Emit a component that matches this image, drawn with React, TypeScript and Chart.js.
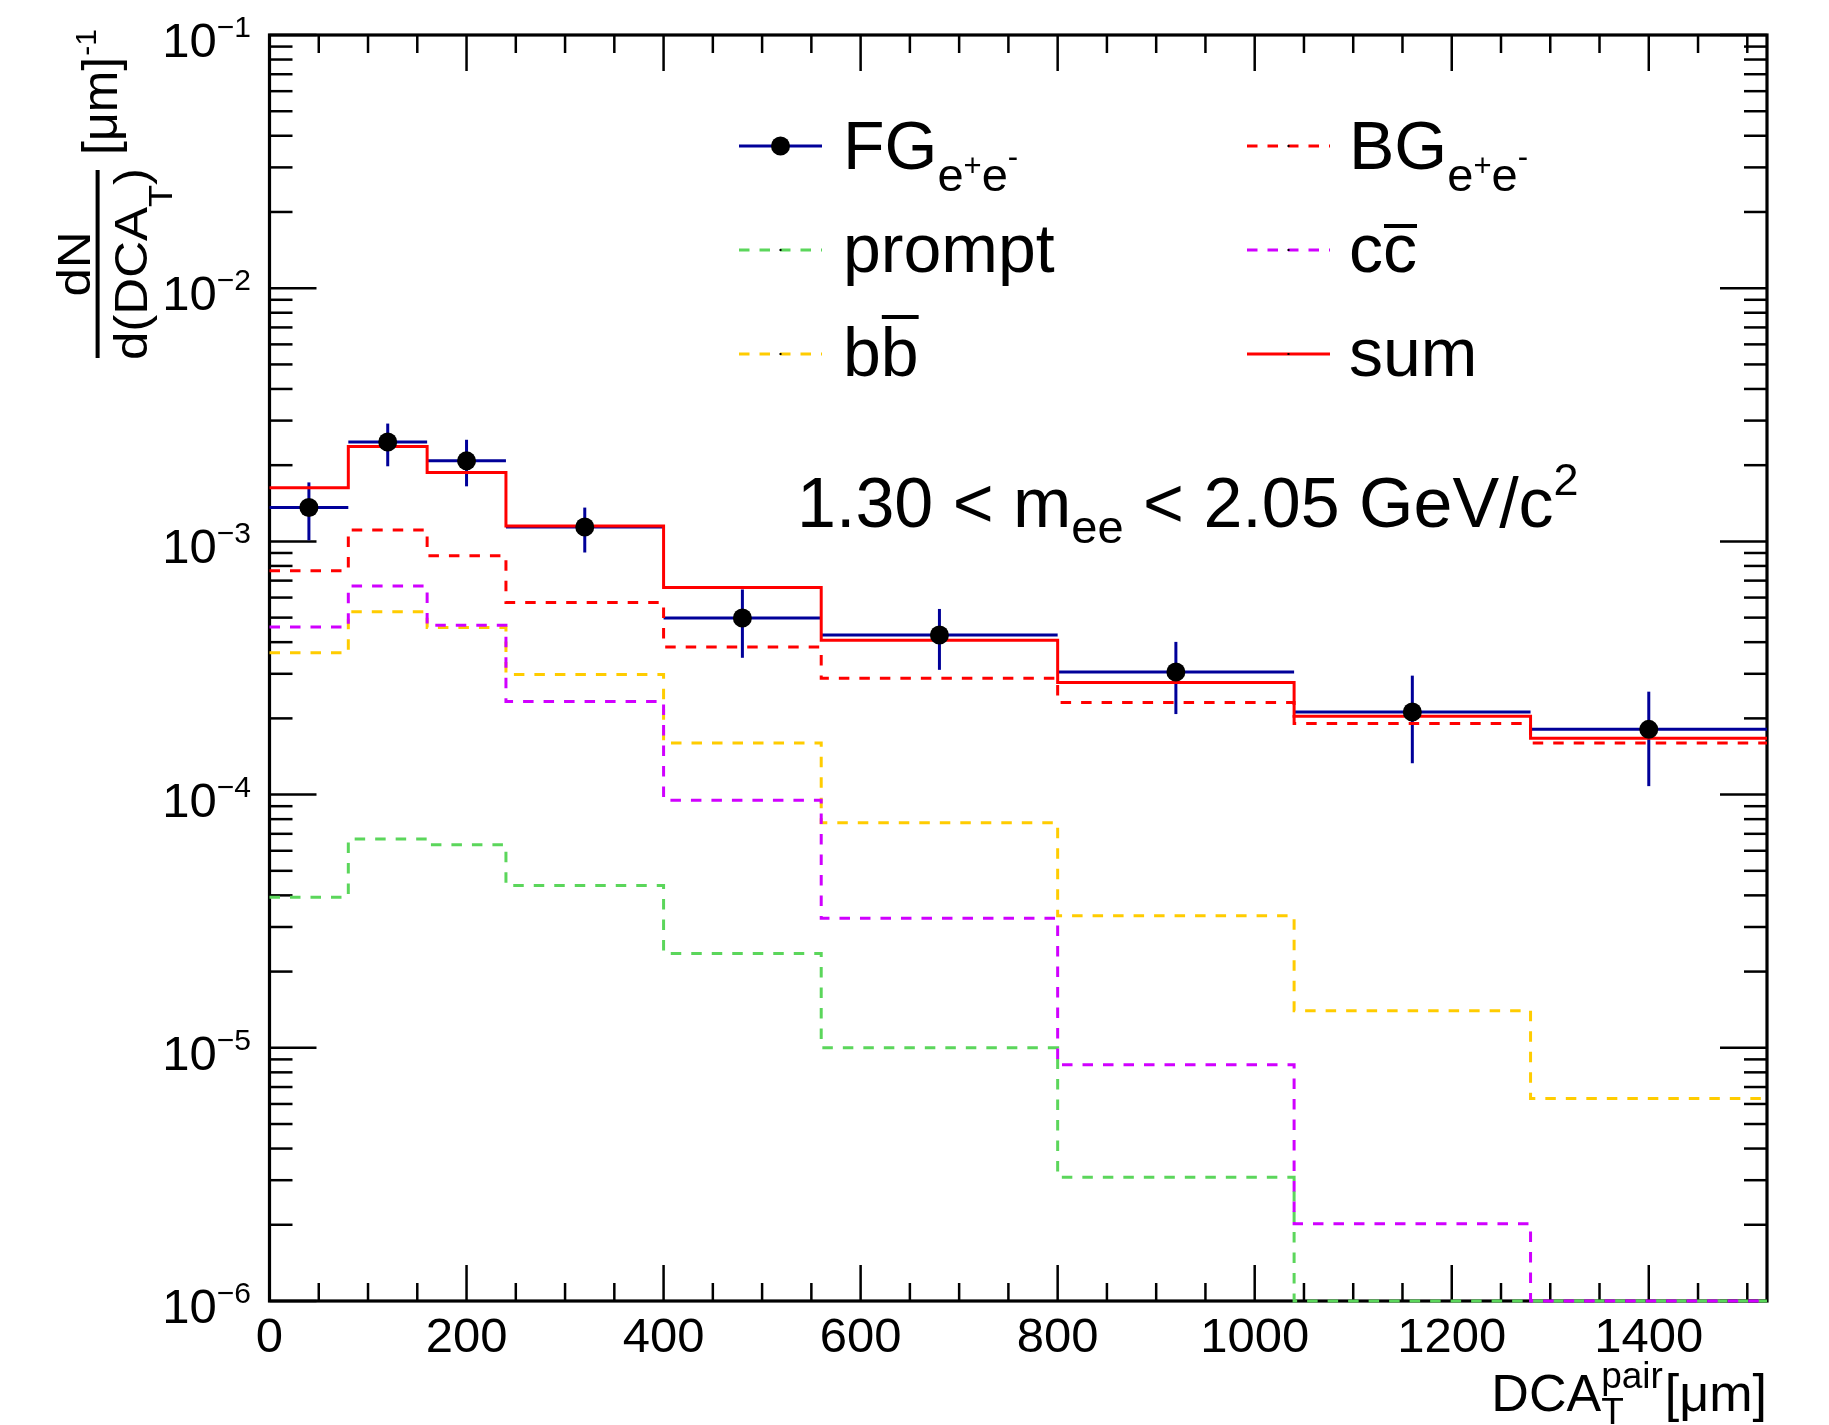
import React, { useEffect, useRef } from 'react';
import { Chart, registerables } from 'chart.js';

Chart.register(...registerables);

// ---------------- data ----------------
const binEdges = [0, 80, 160, 240, 400, 560, 800, 1040, 1280, 1520];
const binCenters = [40, 120, 200, 320, 480, 680, 920, 1160, 1400];

const fgValues = [1.36e-3, 2.47e-3, 2.08e-3, 1.14e-3, 4.98e-4, 4.27e-4, 3.05e-4, 2.12e-4, 1.81e-4];
const fgErrHigh = [1.71e-3, 2.92e-3, 2.52e-3, 1.36e-3, 6.46e-4, 5.41e-4, 4.01e-4, 2.95e-4, 2.55e-4];
const fgErrLow = [1.01e-3, 1.98e-3, 1.65e-3, 9.04e-4, 3.47e-4, 3.11e-4, 2.08e-4, 1.33e-4, 1.08e-4];

const sumValues = [1.63e-3, 2.37e-3, 1.87e-3, 1.15e-3, 6.58e-4, 4.07e-4, 2.77e-4, 2.04e-4, 1.67e-4];
const bgValues = [7.66e-4, 1.11e-3, 8.78e-4, 5.74e-4, 3.83e-4, 2.88e-4, 2.31e-4, 1.91e-4, 1.6e-4];
const ccValues = [4.59e-4, 6.66e-4, 4.66e-4, 2.33e-4, 9.5e-5, 3.25e-5, 8.58e-6, 2.02e-6, 1e-6];
const bbValues = [3.63e-4, 5.28e-4, 4.57e-4, 2.98e-4, 1.6e-4, 7.75e-5, 3.32e-5, 1.4e-5, 6.3e-6];
const promptValues = [3.93e-5, 6.68e-5, 6.34e-5, 4.38e-5, 2.36e-5, 1.0e-5, 3.08e-6, 1e-6, 1e-6];

const xTickLabels = [0, 200, 400, 600, 800, 1000, 1200, 1400];
const yTickExponents = [-1, -2, -3, -4, -5, -6];

// ---------------- style ----------------
const W = 1829;
const H = 1425;
const FONT = '"Liberation Sans", Arial, Helvetica, sans-serif';
const C_FG = '#000099';
const C_RED = '#ff0000';
const C_GREEN = '#5bd65b';
const C_MAG = '#d000ff';
const C_YEL = '#ffcc00';
const DASH = [10.5, 10];
const LW = 3;

function stepData(values: number[]) {
  const pts = values.map((v, i) => ({ x: binEdges[i], y: v }));
  pts.push({ x: binEdges[binEdges.length - 1], y: values[values.length - 1] });
  return pts;
}

function setFont(ctx: CanvasRenderingContext2D, size: number) {
  ctx.font = `${size}px ${FONT}`;
}

type Run = { t: string; size: number; dy: number };

function runsWidth(ctx: CanvasRenderingContext2D, runs: Run[]) {
  let w = 0;
  for (const r of runs) {
    setFont(ctx, r.size);
    w += ctx.measureText(r.t).width;
  }
  return w;
}

function drawRuns(ctx: CanvasRenderingContext2D, x: number, y: number, runs: Run[]) {
  let cx = x;
  for (const r of runs) {
    setFont(ctx, r.size);
    ctx.fillText(r.t, cx, y + r.dy);
    cx += ctx.measureText(r.t).width;
  }
  return cx;
}

function seg(ctx: CanvasRenderingContext2D, x1: number, y1: number, x2: number, y2: number) {
  ctx.beginPath();
  ctx.moveTo(x1, y1);
  ctx.lineTo(x2, y2);
  ctx.stroke();
}

const rootPlugin = {
  id: 'rootStyle',
  beforeDraw(chart: any) {
    const ctx = chart.ctx as CanvasRenderingContext2D;
    ctx.save();
    ctx.fillStyle = '#ffffff';
    ctx.fillRect(0, 0, chart.width, chart.height);
    ctx.restore();
  },
  beforeDatasetsDraw(chart: any) {
    const ctx = chart.ctx as CanvasRenderingContext2D;
    const a = chart.chartArea;
    const xs = chart.scales.x;
    const ys = chart.scales.y;
    ctx.save();
    ctx.strokeStyle = '#000';
    ctx.lineCap = 'butt';
    // x ticks (bottom and top)
    ctx.lineWidth = 2.5;
    for (let v = 0; v <= 1520; v += 50) {
      const px = xs.getPixelForValue(v);
      const len = v % 200 === 0 ? 36 : 18;
      seg(ctx, px, a.bottom, px, a.bottom - len);
      seg(ctx, px, a.top, px, a.top + len);
    }
    // y ticks (left and right)
    for (let e = -6; e <= -1; e++) {
      for (let m = 1; m <= 9; m++) {
        if (e === -1 && m > 1) break;
        const py = ys.getPixelForValue(m * Math.pow(10, e));
        const len = m === 1 ? 47 : 23;
        seg(ctx, a.left, py, a.left + len, py);
        seg(ctx, a.right, py, a.right - len, py);
      }
    }
    // frame
    ctx.lineWidth = 3.2;
    ctx.strokeRect(a.left, a.top, a.right - a.left, a.bottom - a.top);

    // FG error bars
    ctx.strokeStyle = C_FG;
    ctx.lineWidth = 3;
    for (let i = 0; i < fgValues.length; i++) {
      const yv = ys.getPixelForValue(fgValues[i]);
      seg(ctx, xs.getPixelForValue(binEdges[i]), yv, xs.getPixelForValue(binEdges[i + 1]), yv);
      const xc = xs.getPixelForValue(binCenters[i]);
      seg(ctx, xc, ys.getPixelForValue(fgErrLow[i]), xc, ys.getPixelForValue(fgErrHigh[i]));
    }
    ctx.restore();
  },
  afterDraw(chart: any) {
    const ctx = chart.ctx as CanvasRenderingContext2D;
    const a = chart.chartArea;
    const xs = chart.scales.x;
    const ys = chart.scales.y;
    ctx.save();
    ctx.fillStyle = '#000';
    ctx.textBaseline = 'alphabetic';

    // x tick labels
    ctx.textAlign = 'center';
    setFont(ctx, 49);
    for (const v of xTickLabels) {
      ctx.fillText(String(v), xs.getPixelForValue(v), a.bottom + 51);
    }

    // y tick labels
    ctx.textAlign = 'left';
    for (const e of yTickExponents) {
      const py = ys.getPixelForValue(Math.pow(10, e));
      const runs: Run[] = [
        { t: '10', size: 49, dy: 22 },
        { t: '\u2212' + String(-e), size: 30, dy: 2 },
      ];
      const w = runsWidth(ctx, runs);
      drawRuns(ctx, 251 - w, py, runs);
    }

    // x axis title: DCA_T^pair [μm]
    {
      const base = 1411;
      const big = 52;
      const small = 37;
      setFont(ctx, big);
      const wDCA = ctx.measureText('DCA').width;
      const wUnit = ctx.measureText('[\u03bcm]').width;
      setFont(ctx, small);
      const wT = ctx.measureText('T').width;
      const wPair = ctx.measureText('pair').width;
      const wMid = Math.max(wT, wPair) + 2;
      const total = wDCA + wMid + wUnit;
      let x0 = a.right - total;
      setFont(ctx, big);
      ctx.fillText('DCA', x0, base);
      x0 += wDCA;
      setFont(ctx, small);
      ctx.fillText('T', x0, base + 13);
      ctx.fillText('pair', x0, base - 23);
      x0 += wMid;
      setFont(ctx, big);
      ctx.fillText('[\u03bcm]', x0, base);
    }

    // y axis title (rotated)
    {
      ctx.save();
      ctx.rotate(-Math.PI / 2); // (u, v) -> canvas (v, -u)
      const cu = -264;
      const sq = 0.92;
      // fraction bar
      ctx.fillRect(-358, 95.6, 188, 4);
      // numerator
      ctx.save();
      ctx.translate(cu, 90);
      ctx.scale(1, sq);
      setFont(ctx, 51);
      ctx.textAlign = 'center';
      ctx.fillText('dN', 0, 0);
      ctx.restore();
      // denominator
      ctx.save();
      ctx.translate(0, 147);
      ctx.scale(1, sq);
      ctx.textAlign = 'left';
      const den: Run[] = [
        { t: 'd(DCA', size: 51, dy: 0 },
        { t: 'T', size: 36, dy: 27 },
        { t: ')', size: 51, dy: 0 },
      ];
      const dw = runsWidth(ctx, den);
      drawRuns(ctx, cu - dw / 2, 0, den);
      ctx.restore();
      // units
      ctx.textAlign = 'left';
      setFont(ctx, 50);
      ctx.fillText('[\u03bcm]', -155, 117);
      const wu = ctx.measureText('[\u03bcm]').width;
      setFont(ctx, 30);
      ctx.fillText('-1', -155 + wu + 1, 96);
      ctx.restore();
    }

    // legend
    {
      const rowsLine = [146, 250, 354];
      const rowsBase = [169, 272, 376];
      const colLine = [[739, 822], [1247, 1330]];
      const colText = [843, 1349];
      const entries = [
        { col: 0, row: 0, color: C_FG, dash: [] as number[], kind: 'fg' },
        { col: 1, row: 0, color: C_RED, dash: DASH, kind: 'bg' },
        { col: 0, row: 1, color: C_GREEN, dash: DASH, kind: 'prompt' },
        { col: 1, row: 1, color: C_MAG, dash: DASH, kind: 'cc' },
        { col: 0, row: 2, color: C_YEL, dash: DASH, kind: 'bb' },
        { col: 1, row: 2, color: C_RED, dash: [] as number[], kind: 'sum' },
      ];
      for (const en of entries) {
        const [lx1, lx2] = colLine[en.col];
        const ly = rowsLine[en.row];
        ctx.save();
        ctx.strokeStyle = en.color;
        ctx.lineWidth = LW;
        ctx.setLineDash(en.dash);
        seg(ctx, lx1, ly, lx2, ly);
        ctx.restore();
        const mx = (lx1 + lx2) / 2;
        if (en.kind === 'fg') {
          ctx.beginPath();
          ctx.arc(mx, ly, 9.5, 0, Math.PI * 2);
          ctx.fill();
        } else {
          ctx.fillRect(mx - 1, ly - 1, 2, 2);
        }
        const tx = colText[en.col];
        const base = rowsBase[en.row];
        ctx.textAlign = 'left';
        if (en.kind === 'fg' || en.kind === 'bg') {
          drawRuns(ctx, tx, base, [
            { t: en.kind === 'fg' ? 'FG' : 'BG', size: 68, dy: 0 },
            { t: 'e', size: 47, dy: 22 },
            { t: '+', size: 31, dy: 7 },
            { t: 'e', size: 47, dy: 22 },
            { t: '-', size: 31, dy: -2 },
          ]);
        } else if (en.kind === 'prompt') {
          setFont(ctx, 68);
          ctx.fillText('prompt', tx, base);
        } else if (en.kind === 'sum') {
          setFont(ctx, 68);
          ctx.fillText('sum', tx, base);
        } else {
          const ch = en.kind === 'cc' ? 'c' : 'b';
          setFont(ctx, 68);
          const w1 = ctx.measureText(ch).width;
          ctx.fillText(ch + ch, tx, base);
          const oy = en.kind === 'cc' ? base - 46 : base - 59;
          ctx.fillRect(tx + w1 + 1, oy - 2, w1 - 1, 4);
        }
      }
    }

    // mass range annotation
    {
      ctx.textAlign = 'left';
      drawRuns(ctx, 797, 527, [
        { t: '1.30 < m', size: 70, dy: 0 },
        { t: 'ee', size: 47, dy: 16 },
        { t: ' < 2.05 GeV/c', size: 70, dy: 0 },
        { t: '2', size: 45, dy: -32 },
      ]);
    }
    ctx.restore();
  },
};

export default function App() {
  const ref = useRef<HTMLCanvasElement | null>(null);
  useEffect(() => {
    const canvas = ref.current;
    if (!canvas) return;
    const common = { pointRadius: 0, fill: false, stepped: true as const, borderWidth: LW, clip: 6, tension: 0 };
    const chart = new Chart(canvas, {
      type: 'line',
      data: {
        datasets: [
          {
            label: 'FG',
            data: binCenters.map((x, i) => ({ x, y: fgValues[i] })),
            showLine: false,
            pointRadius: 9.5,
            pointBackgroundColor: '#000',
            pointBorderColor: '#000',
            pointBorderWidth: 0,
            borderColor: '#000',
            clip: 12,
            order: 0,
          } as any,
          { label: 'sum', data: stepData(sumValues), borderColor: C_RED, ...common, order: 1 } as any,
          { label: 'BG', data: stepData(bgValues), borderColor: C_RED, borderDash: DASH, ...common, order: 2 } as any,
          { label: 'cc', data: stepData(ccValues), borderColor: C_MAG, borderDash: DASH, ...common, order: 3 } as any,
          { label: 'bb', data: stepData(bbValues), borderColor: C_YEL, borderDash: DASH, ...common, order: 4 } as any,
          { label: 'prompt', data: stepData(promptValues), borderColor: C_GREEN, borderDash: DASH, ...common, order: 5 } as any,
        ],
      },
      options: {
        responsive: false,
        animation: false,
        events: [],
        layout: { padding: { left: 269.5, top: 35, right: 62, bottom: 124 } },
        scales: {
          x: { type: 'linear', min: 0, max: 1520, display: false },
          y: { type: 'logarithmic', min: 1e-6, max: 0.1, display: false },
        },
        plugins: { legend: { display: false }, tooltip: { enabled: false } },
      },
      plugins: [rootPlugin],
    } as any);
    return () => chart.destroy();
  }, []);
  return (
    <div style={{ position: 'fixed', left: 0, top: 0, width: W, height: H, background: '#fff' }}>
      <canvas ref={ref} width={W} height={H} style={{ width: W, height: H, display: 'block' }} />
    </div>
  );
}
